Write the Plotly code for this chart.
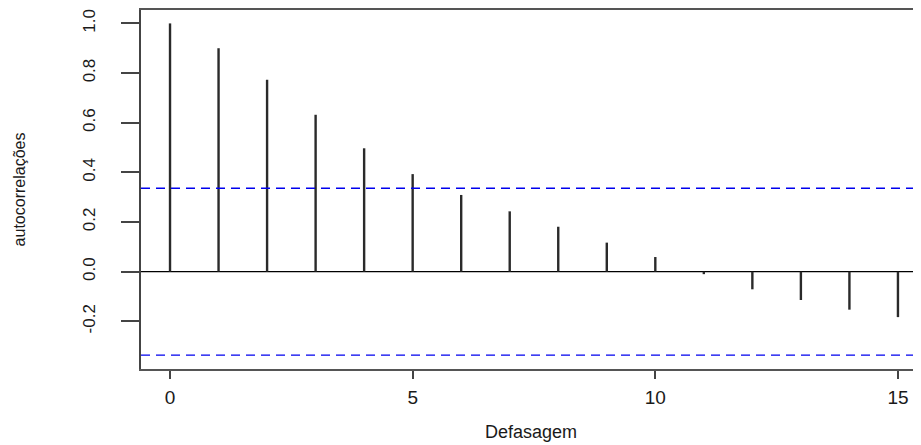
import plotly.graph_objects as go

lags = list(range(16))
acf_values = [1.0, 0.900, 0.773, 0.632, 0.497, 0.393, 0.309, 0.243,
              0.181, 0.117, 0.059, -0.010, -0.071, -0.114, -0.153, -0.183]
conf_limit = 0.336
x_ticks = [0, 5, 10, 15]
y_ticks = [-0.2, 0.0, 0.2, 0.4, 0.6, 0.8, 1.0]
y_ticktext = ["-0.2", "0.0", "0.2", "0.4", "0.6", "0.8", "1.0"]

xs, ys = [], []
for lag, v in zip(lags, acf_values):
    xs += [lag, lag, None]
    ys += [0, v, None]

fig = go.Figure()
fig.add_trace(go.Scatter(x=xs, y=ys, mode="lines",
                         line=dict(color="#2a2a2a", width=2.4),
                         hoverinfo="skip", showlegend=False))

fig.add_hline(y=0, line=dict(color="black", width=1.3), layer="below")
for yv in (conf_limit, -conf_limit):
    fig.add_hline(y=yv, line=dict(color="#0000ee", width=1.3, dash="9px,6px"))

font_family = "Liberation Sans, Arial, sans-serif"
# the page body adds an 8px offset, so the figure is 8px smaller on each axis
fig.update_layout(
    width=913, height=437,
    margin=dict(l=133, r=0, t=2, b=76, autoexpand=False),
    plot_bgcolor="white", paper_bgcolor="white",
    showlegend=False,
    font=dict(family=font_family, color="#222"),
    xaxis=dict(range=[-0.598, 15.475], tickvals=x_ticks,
               ticktext=[str(t) for t in x_ticks],
               showgrid=False, zeroline=False, automargin=False,
               showline=True, linecolor="#555", linewidth=2, mirror=True,
               ticks="outside", ticklen=8, tickwidth=2, tickcolor="#444",
               tickfont=dict(size=19, family=font_family, color="#1a1a1a"),
               ticklabelstandoff=2,
               title=dict(text="Defasagem", standoff=19,
                          font=dict(size=18, family=font_family, color="#1a1a1a"))),
    yaxis=dict(range=[-0.392, 1.054], tickvals=y_ticks, ticktext=y_ticktext,
               showgrid=False, zeroline=False, automargin=False,
               showline=True, linecolor="#444", linewidth=2, mirror=False,
               ticks="outside", ticklen=18, tickwidth=1.5, tickcolor="#444",
               tickangle=-90,
               tickfont=dict(size=17, family=font_family, color="#1a1a1a"),
               ticklabelstandoff=19,
               title=dict(text="autocorrelações", standoff=51,
                          font=dict(size=16, family=font_family, color="#1a1a1a"))),
)

fig.write_html("out.html")
